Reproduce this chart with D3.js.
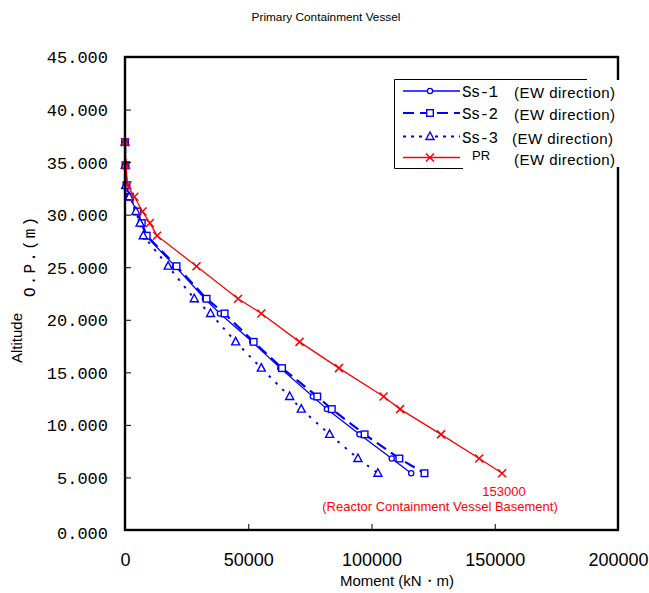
<!DOCTYPE html>
<html><head><meta charset="utf-8">
<script src="https://cdn.jsdelivr.net/npm/d3@7"></script>
<style>html,body{margin:0;padding:0;background:#fff;}</style>
</head><body>
<script>
const heights = [36.9, 34.7, 32.8, 31.7, 30.3, 29.2, 28.0, 25.1, 22.0, 20.6, 17.9, 15.4, 12.7, 11.5, 9.1, 6.8, 5.4];
const ss1 = [0, 200, 500, 1900, 4800, 6600, 8400, 20300, 32400, 38500, 51600, 63000, 76200, 81900, 95100, 108200, 116100];
const ss2 = [0, 200, 600, 2000, 5000, 6800, 8800, 20900, 33100, 40400, 52200, 63700, 78000, 83900, 97200, 111300, 121500];
const ss3 = [0, 100, 300, 1700, 4400, 6100, 7400, 17500, 28100, 34700, 44900, 55300, 66800, 71500, 83000, 94500, 102600];
const pr  = [0, 400, 1000, 3800, 7100, 10100, 13000, 29000, 45900, 55300, 70800, 86800, 104900, 111600, 128200, 143700, 153000];
const xTicks = [0, 50000, 100000, 150000, 200000];
const yTicks = [0, 5, 10, 15, 20, 25, 30, 35, 40, 45];
const seriesNames = ["Ss-1", "Ss-2", "Ss-3", "PR"];
const dirLabel = "(EW direction)";

const W = 649, H = 593;
const svg = d3.select("body").append("svg").attr("width", W).attr("height", H);
const x = d3.scaleLinear().domain([0, 200000]).range([125, 618]);
const y = d3.scaleLinear().domain([0, 45]).range([530, 57]);

const series = [
  {name: seriesNames[0], vals: ss1, color: "#0000ff", dash: null, width: 1.3, marker: "circle"},
  {name: seriesNames[1], vals: ss2, color: "#0000ff", dash: "11,6", width: 2.2, marker: "square"},
  {name: seriesNames[2], vals: ss3, color: "#0000ff", dash: "2.5,7", width: 2, marker: "triangle"},
  {name: seriesNames[3], vals: pr, color: "#ff0000", dash: null, width: 1.3, marker: "cross"}
];

function drawMarker(g, type, cx, cy, color) {
  if (type === "circle") {
    g.append("circle").attr("cx", cx).attr("cy", cy).attr("r", 2.6)
      .attr("fill", "#fff").attr("stroke", color).attr("stroke-width", 1.3);
  } else if (type === "square") {
    g.append("rect").attr("x", cx - 3.3).attr("y", cy - 3.3).attr("width", 6.6).attr("height", 6.6)
      .attr("fill", "#fff").attr("stroke", color).attr("stroke-width", 1.4);
  } else if (type === "triangle") {
    g.append("path").attr("d", `M${cx},${cy-4.5}L${cx+4},${cy+3}L${cx-4},${cy+3}Z`)
      .attr("fill", "#fff").attr("stroke", color).attr("stroke-width", 1.4);
  } else {
    g.append("path").attr("d", `M${cx-4},${cy-4}L${cx+4},${cy+4}M${cx-4},${cy+4}L${cx+4},${cy-4}`)
      .attr("stroke", color).attr("stroke-width", 1.5).attr("fill", "none");
  }
}

// title
svg.append("text").attr("x", 326).attr("y", 21).attr("text-anchor", "middle")
  .attr("font-family", "Liberation Sans, Arial, sans-serif").attr("font-size", 11.8).text("Primary Containment Vessel");

// series
const line = d3.line().x(d => x(d[0])).y(d => y(d[1]));
series.forEach(s => {
  const pts = s.vals.map((v, i) => [v, heights[i]]);
  const g = svg.append("g");
  g.append("path").attr("d", line(pts)).attr("fill", "none").attr("stroke", s.color)
    .attr("stroke-width", s.width).attr("stroke-dasharray", s.dash);
  pts.forEach(p => drawMarker(g, s.marker, x(p[0]), y(p[1]), s.color));
});

// axes
const xAxis = d3.axisBottom(x).tickValues(xTicks).tickSize(-6).tickPadding(0).tickFormat(d3.format("d"));
const gx = svg.append("g").attr("transform", "translate(0,530)").call(xAxis);
gx.select(".domain").remove();
gx.selectAll(".tick line").attr("stroke", "#000");
gx.selectAll(".tick text").attr("y", 36).attr("dy", 0).attr("font-size", 18)
  .attr("font-family", "Liberation Sans, Arial, sans-serif").attr("fill", "#000");

const yAxis = d3.axisLeft(y).tickValues(yTicks).tickSize(-6).tickFormat(d3.format(".3f"));
const gy = svg.append("g").attr("transform", "translate(125,0)").call(yAxis);
gy.select(".domain").remove();
gy.selectAll(".tick line").attr("stroke", "#000");
gy.selectAll(".tick text").attr("x", -17).attr("dy", "0.35em").attr("font-size", 17)
  .attr("font-family", "Liberation Mono, DejaVu Sans Mono, monospace").attr("fill", "#000");
gy.selectAll(".tick").filter(d => d === 0).select("text").attr("dy", "0.5em");

// frame
svg.append("rect").attr("x", x(0)).attr("y", y(45)).attr("width", x(200000) - x(0)).attr("height", y(0) - y(45))
  .attr("fill", "none").attr("stroke", "#000").attr("stroke-width", 2.4);

// axis titles
svg.append("text").attr("x", 397).attr("y", 586).attr("text-anchor", "middle")
  .attr("font-family", "Liberation Sans, Arial, sans-serif").attr("font-size", 15).text("Moment (kN・m)");
svg.append("text").attr("transform", "translate(22,338) rotate(-90)").attr("text-anchor", "middle")
  .attr("font-family", "Liberation Sans, Arial, sans-serif").attr("font-size", 15).text("Altitude");
svg.append("text").attr("transform", "translate(35,257) rotate(-90)").attr("text-anchor", "middle")
  .attr("font-family", "Liberation Mono, DejaVu Sans Mono, monospace").attr("font-size", 16)
  .attr("textLength", 80).attr("lengthAdjust", "spacing").text("O.P.(m)");

// annotation
svg.append("text").attr("x", 504).attr("y", 496).attr("text-anchor", "middle").attr("fill", "#ff0000")
  .attr("font-family", "Liberation Sans, Arial, sans-serif").attr("font-size", 13).text(d3.format("d")(pr[pr.length - 1]));
svg.append("text").attr("x", 440).attr("y", 511).attr("text-anchor", "middle").attr("fill", "#ff0000")
  .attr("font-family", "Liberation Sans, Arial, sans-serif").attr("font-size", 13).text("(Reactor Containment Vessel Basement)");

// legend
const lg = svg.append("g");
lg.append("rect").attr("x", 394).attr("y", 79).attr("width", 193).attr("height", 90).attr("fill", "#fff").attr("stroke", "none");
lg.append("rect").attr("x", 463).attr("y", 80).attr("width", 162).attr("height", 87).attr("fill", "#fff");
lg.append("path").attr("d", "M587,79.5H394.5V168.5H463").attr("fill", "none").attr("stroke", "#000").attr("stroke-width", 1);
const rowsY = [91, 113, 136.5, 157.5];
const nameX = [462, 462, 462, 472];
const dirX = [514, 514, 512, 514];
series.forEach((s, i) => {
  const yy = rowsY[i];
  lg.append("line").attr("x1", 403).attr("x2", 460).attr("y1", yy).attr("y2", yy)
    .attr("stroke", s.color).attr("stroke-width", s.width).attr("stroke-dasharray", i === 2 ? "3,5" : s.dash);
  drawMarker(lg, s.marker, 430, yy, s.color);
  if (i < 3) {
    lg.append("text").attr("x", nameX[i]).attr("y", yy + 6).attr("font-size", 16)
      .attr("font-family", "Liberation Mono, DejaVu Sans Mono, monospace").attr("textLength", 36).text(s.name);
  } else {
    lg.append("text").attr("x", nameX[i]).attr("y", yy + 2).attr("font-size", 13)
      .attr("font-family", "Liberation Sans, Arial, sans-serif").text(s.name);
  }
  lg.append("text").attr("x", dirX[i]).attr("y", yy + 7).attr("font-size", 15)
    .attr("font-family", "Liberation Sans, Arial, sans-serif").attr("textLength", 101).attr("lengthAdjust", "spacing").text(dirLabel);
});
</script>
</body></html>
